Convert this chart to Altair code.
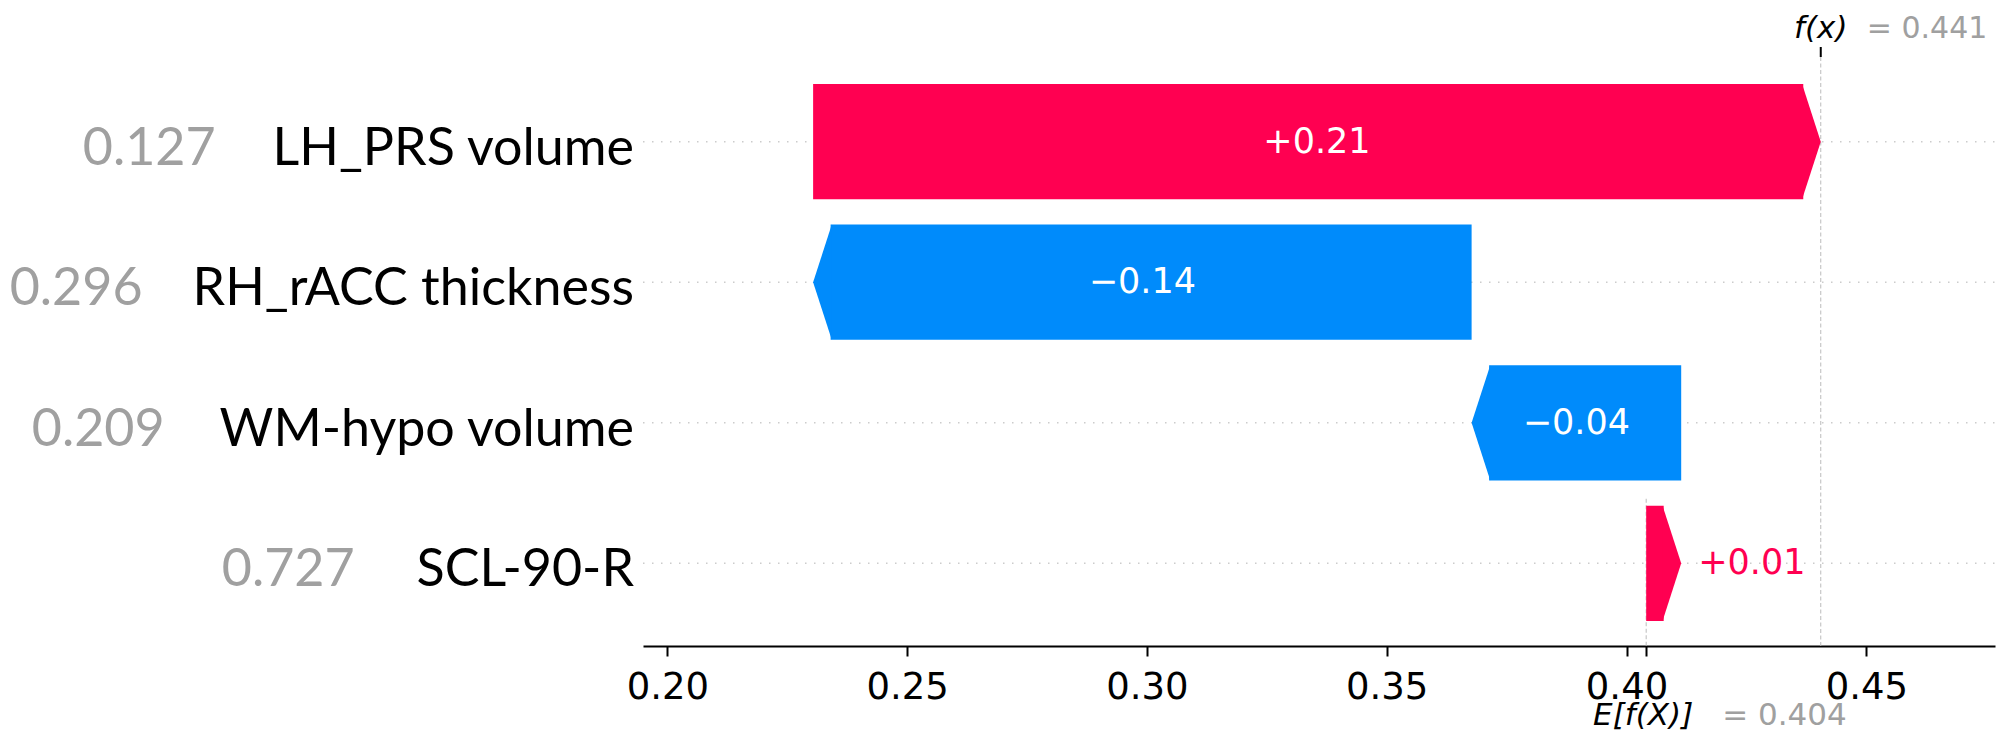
import altair as alt
import pandas as pd

# ---------------- data (top row first) ----------------
features = ["LH_PRS volume", "RH_rACC thickness", "WM-hypo volume", "SCL-90-R"]
feature_values = ["0.127", "0.296", "0.209", "0.727"]
shap_values = [0.2101, -0.1373, -0.0437, 0.0073]
shap_labels = ["+0.21", "\u22120.14", "\u22120.04", "+0.01"]
base_value = 0.4041
base_label = "0.404"
fx_label = "0.441"
x_ticks = [0.20, 0.25, 0.30, 0.35, 0.40, 0.45]

# ---------------- layout / style ----------------
RED, BLUE = "#ff0051", "#008bfb"
GRAY_TXT = "#a0a0a0"
W, H = 1352, 589
PAD = {"left": 635, "top": 49, "right": 3, "bottom": 87}
X_DOMAIN = [0.19493, 0.47683]
Y_DOMAIN = [-0.5885, 3.6027]
BAR_HALF = 0.41
HEAD_PX = 17.5
NAME_FONT, NAME_SIZE = "Lato", 52
NUM_FONT = "DejaVu Sans"

px_per_unit = W / (X_DOMAIN[1] - X_DOMAIN[0])
px_per_row = H / (Y_DOMAIN[1] - Y_DOMAIN[0])
half_px = BAR_HALF * px_per_row
head = HEAD_PX / px_per_unit

# approximate advance widths (em) used to place the grey feature values
LATO_W = {" ": 0.193, ".": 0.23, "_": 0.46, "-": 0.35, "A": 0.68, "C": 0.68, "H": 0.75,
          "L": 0.5, "M": 0.91, "P": 0.59, "R": 0.62, "S": 0.52, "W": 0.99, "a": 0.49,
          "c": 0.46, "e": 0.52, "h": 0.56, "i": 0.24, "k": 0.5, "l": 0.24, "m": 0.84,
          "n": 0.56, "o": 0.56, "p": 0.55, "r": 0.36, "s": 0.42, "t": 0.35, "u": 0.56,
          "v": 0.5, "y": 0.5}
def lato_width(s, size):
    return sum(LATO_W.get(ch, 0.58) for ch in s) * size

DJV_W = {"+": 0.838, "\u2212": 0.838, ".": 0.318}
def djv_width(s, size):
    return sum(DJV_W.get(ch, 0.636) for ch in s) * size

n = len(features)
rows = [n - 1 - i for i in range(n)]
starts, ends = [0.0] * n, [0.0] * n
cur = base_value
for i in range(n - 1, -1, -1):
    starts[i] = cur
    cur += shap_values[i]
    ends[i] = cur
fx_value = cur

body, heads = [], []
for i in range(n):
    s, e, r = starts[i], ends[i], rows[i]
    d = 1 if e >= s else -1
    h = min(head, abs(e - s))
    neck = e - d * h
    sign = "pos" if d > 0 else "neg"
    body.append(dict(feature=features[i], sign=sign, x0=min(s, neck), x1=max(s, neck),
                     lo=r - BAR_HALF, hi=r + BAR_HALF))
    heads.append(dict(feature=features[i], sign=sign, neck=neck, row=r))
body = pd.DataFrame(body)
heads = pd.DataFrame(heads)

LABEL_SIZE = 35
lab = pd.DataFrame(dict(
    feature=features, value=feature_values, row=rows, label=shap_labels,
    mid=[(s + e) / 2 for s, e in zip(starts, ends)], end=ends,
    sign=["pos" if v >= 0 else "neg" for v in shap_values],
    inside=[bool(abs(v) * px_per_unit > djv_width(l, LABEL_SIZE) + 20) for v, l in zip(shap_values, shap_labels)],
))

xscale = alt.Scale(domain=X_DOMAIN, nice=False, zero=False)
yscale = alt.Scale(domain=Y_DOMAIN, nice=False, zero=False)
color_scale = alt.Scale(domain=["pos", "neg"], range=[RED, BLUE])

tick_vals = x_ticks + [base_value]
xaxis = alt.Axis(
    values=tick_vals,
    labelExpr=f"abs(datum.value - {base_value}) < 1e-6 ? '' : format(datum.value, '.2f')",
    title=None, grid=False, orient="bottom",
    domainColor="black", domainWidth=2, tickColor="black", tickWidth=2, tickSize=10,
    labelFont=NUM_FONT, labelFontSize=37, labelColor="black", labelPadding=42,
    labelBaseline="alphabetic", labelOverlap=False, labelFlush=False,
)

def X(field):
    return alt.X(field, scale=xscale, axis=xaxis)

def Y(field):
    return alt.Y(field, scale=yscale, axis=None)

# row guide lines
row_lines = alt.Chart(lab).mark_rule(color="#cccccc", strokeDash=[1.5, 7.5], strokeWidth=1.5).encode(
    y=Y("row:Q"), x=alt.value(0), x2=alt.value(W))

single = pd.DataFrame({"fx": [fx_value], "base": [base_value]})
fx_line = alt.Chart(single).mark_rule(color="#bbbbbb", strokeDash=[4, 2.5], strokeWidth=1).encode(
    x=X("fx:Q"), y=alt.value(0), y2=alt.value(H))
base_line = alt.Chart(single).mark_rule(color="#bbbbbb", strokeDash=[4, 2.5], strokeWidth=1).encode(
    x=X("base:Q"), y=alt.value(H * 0.75), y2=alt.value(H))
fx_tick = alt.Chart(single).mark_rule(color="black", strokeWidth=2).encode(
    x=X("fx:Q"), y=alt.value(-10), y2=alt.value(0))

bars = alt.Chart(body).mark_rect(opacity=1, strokeWidth=0).encode(
    x=X("x0:Q"), x2="x1:Q",
    y=Y("lo:Q"), y2="hi:Q",
    color=alt.Color("sign:N", scale=color_scale, legend=None),
)

k = HEAD_PX / half_px
head_size = (2 * half_px) ** 2
pos_path = f"M-0.02,-1L{k:.4f},0L-0.02,1Z"
neg_path = f"M0.02,-1L{-k:.4f},0L0.02,1Z"
head_pos = alt.Chart(heads).transform_filter("datum.sign == 'pos'").mark_point(
    shape=pos_path, size=head_size, filled=True, opacity=1, strokeWidth=0, color=RED
).encode(x=X("neck:Q"), y=Y("row:Q"))
head_neg = alt.Chart(heads).transform_filter("datum.sign == 'neg'").mark_point(
    shape=neg_path, size=head_size, filled=True, opacity=1, strokeWidth=0, color=BLUE
).encode(x=X("neck:Q"), y=Y("row:Q"))

inside_txt = alt.Chart(lab).transform_filter("datum.inside").mark_text(
    font=NUM_FONT, fontSize=LABEL_SIZE, color="white", align="center", baseline="alphabetic", dy=11
).encode(x=X("mid:Q"), y=Y("row:Q"), text="label:N")

outside_pos = alt.Chart(lab).transform_filter("!datum.inside && datum.sign == 'pos'").mark_text(
    font=NUM_FONT, fontSize=LABEL_SIZE, color=RED, align="left", baseline="alphabetic", dx=17, dy=11
).encode(x=X("end:Q"), y=Y("row:Q"), text="label:N")

outside_neg = alt.Chart(lab).transform_filter("!datum.inside && datum.sign == 'neg'").mark_text(
    font=NUM_FONT, fontSize=LABEL_SIZE, color=BLUE, align="right", baseline="alphabetic", dx=-17, dy=11
).encode(x=X("end:Q"), y=Y("row:Q"), text="label:N")

NAME_X = -9
names = alt.Chart(lab).mark_text(
    font=NAME_FONT, fontSize=NAME_SIZE, color="black", align="right", baseline="alphabetic", dy=23, x=NAME_X
).encode(y=Y("row:Q"), text="feature:N")

value_layers = []
GAP = 62
min_left = -PAD["left"] + 2
for i in range(n):
    right = NAME_X - lato_width(features[i], NAME_SIZE) - GAP
    right = max(right, min_left + lato_width(feature_values[i], NAME_SIZE))
    value_layers.append(
        alt.Chart(lab).transform_filter(f"datum.row == {rows[i]}").mark_text(
            font=NAME_FONT, fontSize=NAME_SIZE, color=GRAY_TXT, align="right",
            baseline="alphabetic", dy=23, x=right
        ).encode(y=Y("row:Q"), text="value:N")
    )

txt = pd.DataFrame({"fx": [fx_value], "base": [base_value],
                    "fx_t": ["f(x)"], "fx_v": ["= " + fx_label],
                    "e_t": ["E[f(X)]"], "e_v": ["= " + base_label]})
TOP_BASE = 38 - 57
BOT_BASE = 725 - 57
fx_name = alt.Chart(txt).mark_text(font=NUM_FONT, fontSize=31, fontStyle="italic", color="black",
                                   align="center", baseline="alphabetic").encode(
    x=X("fx:Q"), y=alt.value(TOP_BASE), text="fx_t:N")
fx_val = alt.Chart(txt).mark_text(font=NUM_FONT, fontSize=30, color=GRAY_TXT,
                                  align="left", baseline="alphabetic", dx=46).encode(
    x=X("fx:Q"), y=alt.value(TOP_BASE), text="fx_v:N")
e_name = alt.Chart(txt).mark_text(font=NUM_FONT, fontSize=31, fontStyle="italic", color="black",
                                  align="center", baseline="alphabetic", dx=-3).encode(
    x=X("base:Q"), y=alt.value(BOT_BASE), text="e_t:N")
e_val = alt.Chart(txt).mark_text(font=NUM_FONT, fontSize=31, color=GRAY_TXT,
                                 align="left", baseline="alphabetic", dx=76).encode(
    x=X("base:Q"), y=alt.value(BOT_BASE), text="e_v:N")

chart = alt.layer(
    row_lines, fx_line, base_line, fx_tick, bars, head_pos, head_neg,
    inside_txt, outside_pos, outside_neg, names, *value_layers,
    fx_name, fx_val, e_name, e_val,
).properties(
    width=W, height=H, padding=PAD, autosize=alt.AutoSizeParams(type="none"), background="white"
).configure_view(stroke=None)

chart.save("out.html", embed_options={"renderer": "svg", "actions": False})
